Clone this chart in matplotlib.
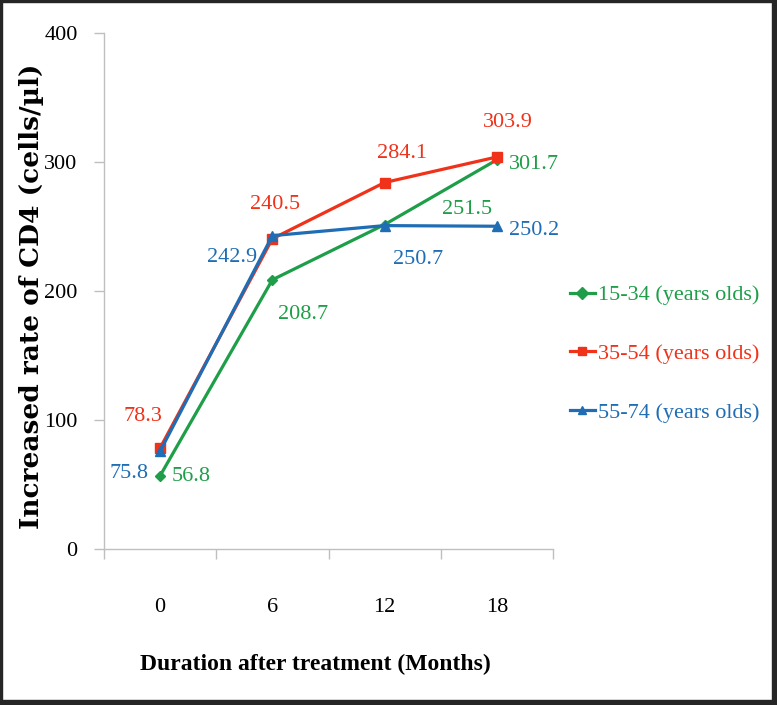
import matplotlib
matplotlib.use("Agg")
import matplotlib.pyplot as plt
from matplotlib.patches import Rectangle

# ---- data ----
months = ["0", "6", "12", "18"]
series_names = ["15-34 (years olds)", "35-54 (years olds)", "55-74 (years olds)"]
g_15_34 = [56.8, 208.7, 251.5, 301.7]
g_35_54 = [78.3, 240.5, 284.1, 303.9]
g_55_74 = [75.8, 242.9, 250.7, 250.2]
y_ticks = [0, 100, 200, 300, 400]

colors = ["#1e9e48", "#f0321a", "#1f6db4"]
markers = ["D", "s", "^"]
msizes = [5, 7, 7.5]

# label offsets in pixels (dx, dy, ha)
offsets = [
    [(12, -1, "left"), (31, -35, "center"), (82, 15, "center"), (12, -5, "left")],
    [(-17, 31, "center"), (3, 34, "center"), (17, 29, "center"), (11, 34, "center")],
    [(-31, -22, "center"), (-40, -22, "center"), (33, -34, "center"), (12, -4, "left")],
]

W, H = 777, 705
fig = plt.figure(figsize=(W / 100, H / 100), dpi=100)
fig.patch.set_facecolor("white")
ax = fig.add_axes([104 / W, 1 - 549 / H, (553 - 104) / W, (549 - 33) / H])

serif = ["Liberation Serif", "DejaVu Serif"]
x = list(range(len(months)))
all_series = [g_15_34, g_35_54, g_55_74]
for vals, c, m, ms, name, offs in zip(all_series, colors, markers, msizes, series_names, offsets):
    ax.plot(x, vals, color=c, lw=2.3, marker=m, ms=ms, mec=c, mfc=c, label=name, zorder=3)
    for xi, v, (dx, dy, ha) in zip(x, vals, offs):
        ax.annotate(f"{v:.1f}", (xi, v), xytext=(dx, dy), textcoords="offset pixels",
                    ha=ha, va="center", color=c, fontsize=16, family=serif)

ax.set_xlim(-0.5, len(months) - 0.5)
ax.set_ylim(0, 400)
ax.set_yticks(y_ticks)
ax.set_yticklabels([str(t) for t in y_ticks], family=serif, fontsize=16)
ax.set_xticks(x)
ax.set_xticklabels(months, family=serif, fontsize=16)
ax.set_xticks([i - 0.5 for i in range(len(months) + 1)], minor=True)
ax.tick_params(axis="x", which="major", length=0, pad=35)
ax.tick_params(axis="x", which="minor", length=7, color="#bfbfbf", width=1)
ax.tick_params(axis="y", length=7, color="#bfbfbf", width=1, pad=12)

for s in ["top", "right"]:
    ax.spines[s].set_visible(False)
for s in ["left", "bottom"]:
    ax.spines[s].set_color("#bfbfbf")
    ax.spines[s].set_linewidth(1)

ax.set_xlabel("Duration after treatment (Months)", family=serif, fontweight="bold",
              fontsize=17)
ax.xaxis.set_label_coords((315 - 104) / (553 - 104), -(664 - 549) / (549 - 33))
ax.xaxis.label.set_va("center")
ax.set_ylabel("Increased rate of CD4 (cells/\u00b5l)", family=["DejaVu Serif", "Liberation Serif"],
              fontweight="bold", fontsize=19)
ax.yaxis.set_label_coords(-(104 - 32) / (553 - 104), (549 - 296) / (549 - 33))
ax.yaxis.label.set_va("center")

leg = ax.legend(loc="center left", bbox_to_anchor=(570 / W, 1 - 354 / H),
                bbox_transform=fig.transFigure, frameon=False, prop={"family": serif, "size": 16},
                labelcolor="linecolor", handlelength=1.12, handletextpad=0.15, labelspacing=1.72,
                borderpad=0, borderaxespad=0)
for h in leg.legend_handles:
    h.set_markersize(6)

# figure border
bc = "#262626"
fig.add_artist(Rectangle((0, 0), 2 / W, 1, transform=fig.transFigure, color=bc))
fig.add_artist(Rectangle((0, 1 - 2 / H), 1, 2 / H, transform=fig.transFigure, color=bc))
fig.add_artist(Rectangle((1 - 5 / W, 0), 5 / W, 1, transform=fig.transFigure, color=bc))
fig.add_artist(Rectangle((0, 0), 1, 5 / H, transform=fig.transFigure, color=bc))

fig.savefig("out.png", dpi=100)
